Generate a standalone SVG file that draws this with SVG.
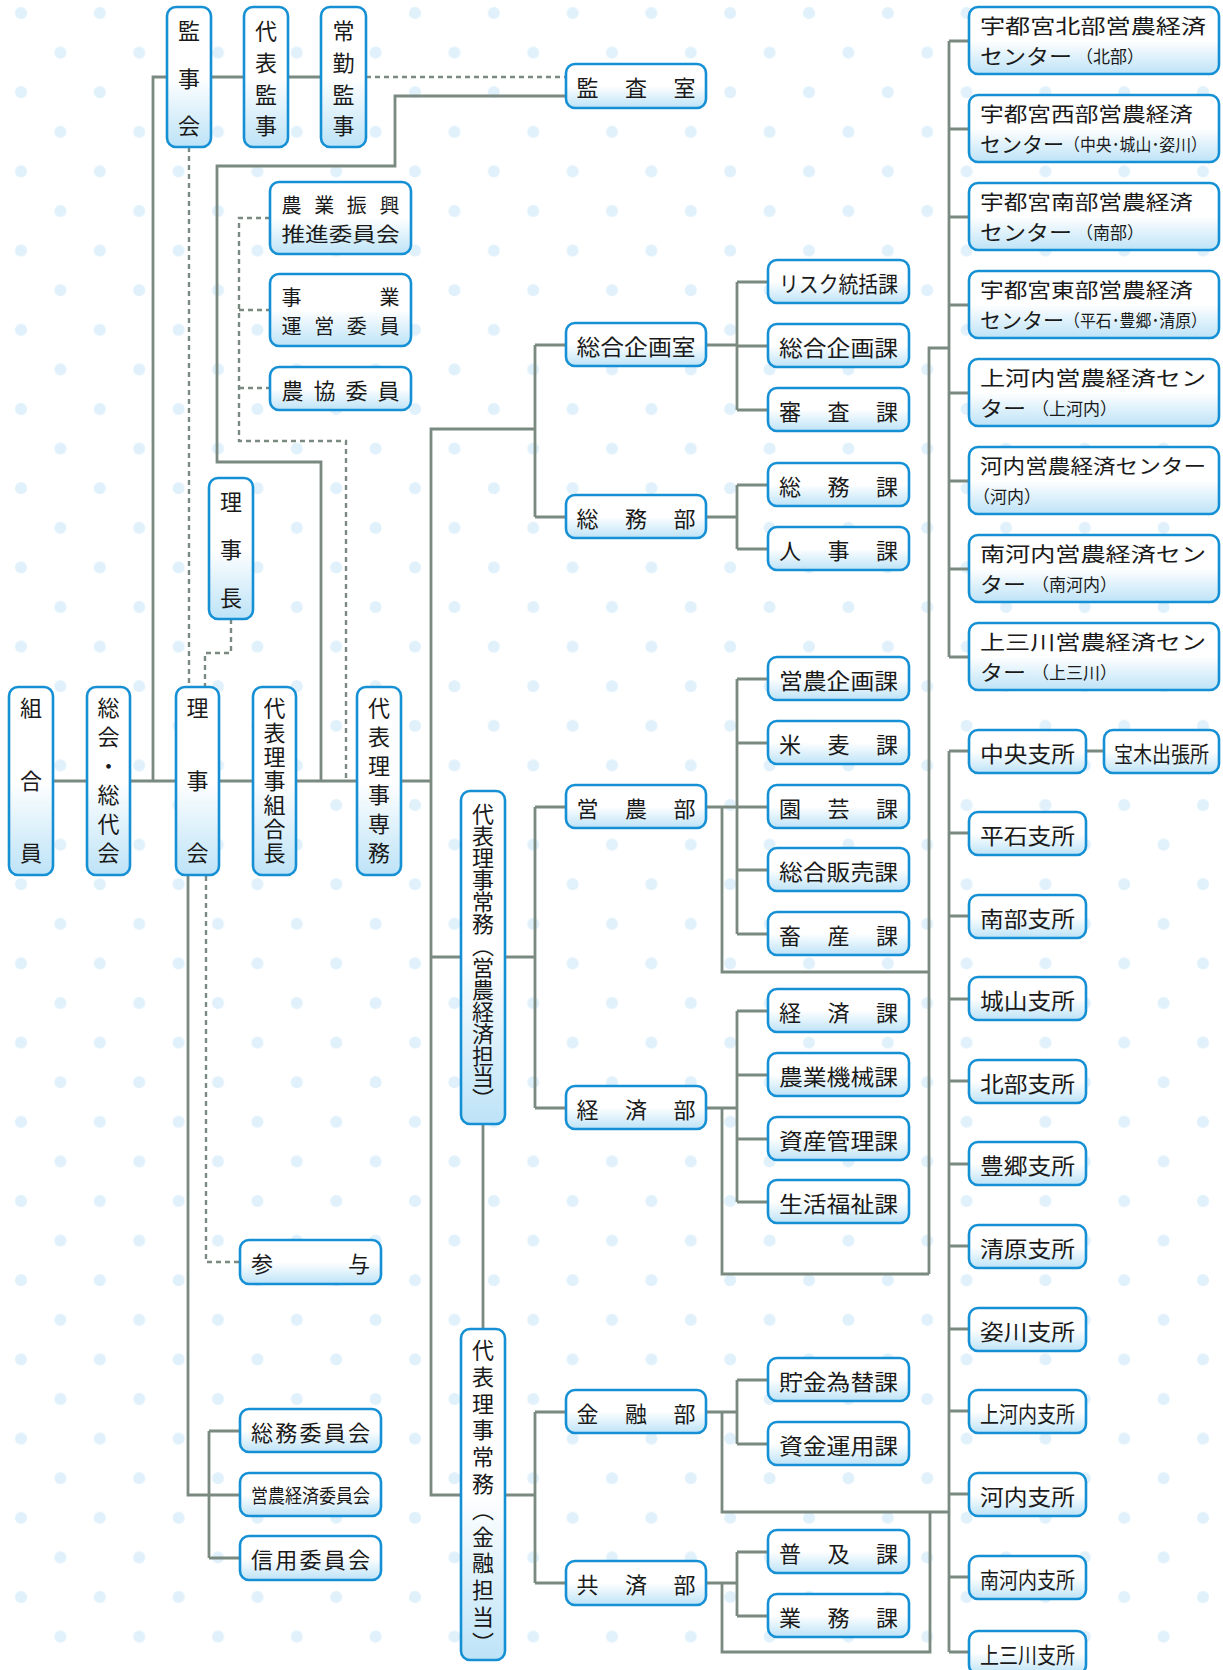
<svg xmlns="http://www.w3.org/2000/svg" width="1223" height="1670" viewBox="0 0 1223 1670">
<style>
.b{fill:url(#g);stroke:#1590d5;stroke-width:2.6}
.t{font-family:"Noto Sans CJK JP","Noto Sans",sans-serif;font-size:22px;fill:#1a1a1a;text-anchor:middle;dominant-baseline:central}
.l{text-anchor:start}
.v{writing-mode:vertical-rl;text-anchor:start}
.s{font-size:17px}
.m{font-size:21px}
.h{font-size:20px}
.c{fill:none;stroke:#7b8a80;stroke-width:2.8}
.d{fill:none;stroke:#7b8a80;stroke-width:2.4;stroke-dasharray:5 4}
</style>
<defs>
<linearGradient id="g" x1="0" y1="0" x2="0" y2="1">
<stop offset="0" stop-color="#ffffff"/>
<stop offset="0.5" stop-color="#ffffff"/>
<stop offset="1" stop-color="#bde3f7"/>
</linearGradient>
<pattern id="dots" patternUnits="userSpaceOnUse" width="78.8" height="79.2">
<circle cx="21" cy="13" r="6" fill="#e1f1fb"/>
<circle cx="60.4" cy="52.6" r="6" fill="#e1f1fb"/>
</pattern>
</defs>
<rect width="1223" height="1670" fill="#ffffff"/>
<rect width="1223" height="1670" fill="url(#dots)"/>

<g id="connectors">
<path class="c" d="M153,781 V77 H321"/>
<path class="d" d="M366,77 H566"/>
<path class="c" d="M566,96 H395 V166 H217 V462 H321 V781"/>
<path class="d" d="M189,147 V688"/>
<path class="d" d="M231,619 V653 H205 V688"/>
<path class="d" d="M270,218 H239 V441 H346 V781 M239,310 H270 M239,388 H270"/>
<path class="c" d="M53,781 H431"/>
<path class="c" d="M535,429 H431 V1495 H461 M431,957 H461"/>
<path class="c" d="M535,345 V517 M535,345 H566 M535,517 H566"/>
<path class="c" d="M706,345 H737 M737,282 V410 M737,282 H768 M737,346 H768 M737,410 H768"/>
<path class="c" d="M706,517 H737 M737,485 V549 M737,485 H768 M737,549 H768"/>
<path class="c" d="M505,957 H535 M535,807 V1108 M535,807 H566 M535,1108 H566"/>
<path class="c" d="M706,807 H737 M737,679 V934 M737,679 H768 M737,743 H768 M737,807 H768 M737,870 H768 M737,934 H768"/>
<path class="c" d="M722,807 V972 H929"/>
<path class="c" d="M706,1108 H737 M737,1011 V1202 M737,1011 H768 M737,1075 H768 M737,1139 H768 M737,1202 H768"/>
<path class="c" d="M722,1108 V1274 H929"/>
<path class="c" d="M929,1274 V348 H949"/>
<path class="c" d="M949,41 V657 M949,41 H969 M949,129 H969 M949,217 H969 M949,305 H969 M949,393 H969 M949,481 H969 M949,569 H969 M949,657 H969"/>
<path class="c" d="M483,1124 V1329"/>
<path class="c" d="M505,1495 H535 M535,1412 V1583 M535,1412 H566 M535,1583 H566"/>
<path class="c" d="M706,1412 H737 M737,1380 V1444 M737,1380 H768 M737,1444 H768"/>
<path class="c" d="M722,1412 V1512 H949"/>
<path class="c" d="M706,1583 H737 M737,1552 V1616 M737,1552 H768 M737,1616 H768"/>
<path class="c" d="M722,1583 V1652 H930 V1512"/>
<path class="c" d="M949,751 V1652 M949,751 H969 M949,833 H969 M949,916 H969 M949,999 H969 M949,1081 H969 M949,1164 H969 M949,1246 H969 M949,1329 H969 M949,1411 H969 M949,1494 H969 M949,1577 H969 M949,1652 H969 M1086,751 H1104"/>
<path class="c" d="M188,876 V1495 H240 M209,1431 V1558 M209,1431 H240 M209,1558 H240"/>
<path class="d" d="M206,876 V1262 H240"/>
</g>

<g id="n-kanjikai"><rect class="b" x="167" y="7" width="44" height="140" rx="9"/><text class="t v" x="189" y="20" textLength="117">監事会</text></g>
<g id="n-daihyokanji"><rect class="b" x="244" y="7" width="44" height="140" rx="9"/><text class="t v" x="266" y="20" textLength="117">代表監事</text></g>
<g id="n-jokinkanji"><rect class="b" x="321" y="7" width="45" height="140" rx="9"/><text class="t v" x="343.5" y="20" textLength="117">常勤監事</text></g>
<g id="n-kansashitsu"><rect class="b" x="566" y="64" width="140" height="44" rx="9"/><text class="t" x="636" y="86" textLength="119">監査室</text></g>

<g id="n-shinko"><rect class="b" x="270" y="182" width="141" height="72" rx="9"/><text class="t h"><tspan x="340.5" y="204" textLength="118">農業振興</tspan><tspan x="340.5" y="233" textLength="118" lengthAdjust="spacingAndGlyphs">推進委員会</tspan></text></g>
<g id="n-jigyo"><rect class="b" x="270" y="274" width="141" height="72" rx="9"/><text class="t h"><tspan x="340.5" y="296" textLength="118">事業</tspan><tspan x="340.5" y="325" textLength="118">運営委員</tspan></text></g>
<g id="n-nokyo"><rect class="b" x="270" y="367" width="141" height="43" rx="9"/><text class="t" x="340.5" y="388.5" textLength="118">農協委員</text></g>

<g id="n-rijicho"><rect class="b" x="209" y="478" width="44" height="141" rx="9"/><text class="t v" x="231" y="491" textLength="118">理事長</text></g>

<g id="n-kumiaiin"><rect class="b" x="9" y="687" width="44" height="188" rx="9"/><text class="t v" x="31" y="697" textLength="167">組合員</text></g>
<g id="n-sokai"><rect class="b" x="87" y="687" width="43" height="188" rx="9"/><text class="t v" x="108.5" y="697" textLength="167">総会・総代会</text></g>
<g id="n-rijikai"><rect class="b" x="176" y="687" width="43" height="188" rx="9"/><text class="t v" x="197.5" y="697" textLength="167">理事会</text></g>
<g id="n-kumiaicho"><rect class="b" x="253" y="687" width="43" height="188" rx="9"/><text class="t v" x="274.5" y="697" textLength="167">代表理事組合長</text></g>
<g id="n-senmu"><rect class="b" x="357" y="687" width="44" height="188" rx="9"/><text class="t v" x="379" y="697" textLength="167">代表理事専務</text></g>

<g id="n-jomu-eino"><rect class="b" x="461" y="791" width="44" height="333" rx="9"/><text class="t v" x="483" y="803" textLength="307">代表理事常務（営農経済担当）</text></g>
<g id="n-jomu-kinyu"><rect class="b" x="461" y="1329" width="44" height="331" rx="9"/><text class="t v" x="483" y="1339" textLength="315">代表理事常務（金融担当）</text></g>

<g id="n-sanyo"><rect class="b" x="240" y="1240" width="141" height="44" rx="9"/><text class="t" x="310.5" y="1262" textLength="119">参与</text></g>
<g id="n-somuiinkai"><rect class="b" x="240" y="1409" width="141" height="43" rx="9"/><text class="t" x="310.5" y="1430.5" textLength="119">総務委員会</text></g>
<g id="n-einoiinkai"><rect class="b" x="240" y="1473" width="141" height="43" rx="9"/><text class="t" x="310.5" y="1494.5" style="font-size:19px" textLength="119" lengthAdjust="spacingAndGlyphs">営農経済委員会</text></g>
<g id="n-shinyoiinkai"><rect class="b" x="240" y="1536" width="141" height="44" rx="9"/><text class="t" x="310.5" y="1558" textLength="119">信用委員会</text></g>

<g id="n-sogokikakushitsu"><rect class="b" x="566" y="323" width="140" height="43" rx="9"/><text class="t" x="636" y="344.5" textLength="119" lengthAdjust="spacingAndGlyphs">総合企画室</text></g>
<g id="n-somubu"><rect class="b" x="566" y="495" width="140" height="43" rx="9"/><text class="t" x="636" y="516.5" textLength="119">総務部</text></g>
<g id="n-einobu"><rect class="b" x="566" y="785" width="140" height="43" rx="9"/><text class="t" x="636" y="806.5" textLength="119">営農部</text></g>
<g id="n-keizaibu"><rect class="b" x="566" y="1086" width="140" height="43" rx="9"/><text class="t" x="636" y="1107.5" textLength="119">経済部</text></g>
<g id="n-kinyubu"><rect class="b" x="566" y="1390" width="140" height="43" rx="9"/><text class="t" x="636" y="1411.5" textLength="119">金融部</text></g>
<g id="n-kyosaibu"><rect class="b" x="566" y="1561" width="140" height="44" rx="9"/><text class="t" x="636" y="1583" textLength="119">共済部</text></g>

<g id="n-risk"><rect class="b" x="768" y="260" width="141" height="43" rx="9"/><text class="t" x="838.5" y="281.5" textLength="119" lengthAdjust="spacingAndGlyphs">リスク統括課</text></g>
<g id="n-sogokikakuka"><rect class="b" x="768" y="324" width="141" height="43" rx="9"/><text class="t" x="838.5" y="345.5" textLength="119" lengthAdjust="spacingAndGlyphs">総合企画課</text></g>
<g id="n-shinsa"><rect class="b" x="768" y="388" width="141" height="43" rx="9"/><text class="t" x="838.5" y="409.5" textLength="119">審査課</text></g>
<g id="n-somuka"><rect class="b" x="768" y="463" width="141" height="43" rx="9"/><text class="t" x="838.5" y="484.5" textLength="119">総務課</text></g>
<g id="n-jinji"><rect class="b" x="768" y="527" width="141" height="43" rx="9"/><text class="t" x="838.5" y="548.5" textLength="119">人事課</text></g>
<g id="n-einokikaku"><rect class="b" x="768" y="657" width="141" height="43" rx="9"/><text class="t" x="838.5" y="678.5" textLength="119" lengthAdjust="spacingAndGlyphs">営農企画課</text></g>
<g id="n-beibaku"><rect class="b" x="768" y="721" width="141" height="43" rx="9"/><text class="t" x="838.5" y="742.5" textLength="119">米麦課</text></g>
<g id="n-engei"><rect class="b" x="768" y="785" width="141" height="43" rx="9"/><text class="t" x="838.5" y="806.5" textLength="119">園芸課</text></g>
<g id="n-hanbai"><rect class="b" x="768" y="848" width="141" height="43" rx="9"/><text class="t" x="838.5" y="869.5" textLength="119" lengthAdjust="spacingAndGlyphs">総合販売課</text></g>
<g id="n-chikusan"><rect class="b" x="768" y="912" width="141" height="43" rx="9"/><text class="t" x="838.5" y="933.5" textLength="119">畜産課</text></g>
<g id="n-keizaika"><rect class="b" x="768" y="989" width="141" height="43" rx="9"/><text class="t" x="838.5" y="1010.5" textLength="119">経済課</text></g>
<g id="n-kikai"><rect class="b" x="768" y="1053" width="141" height="43" rx="9"/><text class="t" x="838.5" y="1074.5" textLength="119" lengthAdjust="spacingAndGlyphs">農業機械課</text></g>
<g id="n-shisan"><rect class="b" x="768" y="1117" width="141" height="43" rx="9"/><text class="t" x="838.5" y="1138.5" textLength="119" lengthAdjust="spacingAndGlyphs">資産管理課</text></g>
<g id="n-fukushi"><rect class="b" x="768" y="1180" width="141" height="43" rx="9"/><text class="t" x="838.5" y="1201.5" textLength="119" lengthAdjust="spacingAndGlyphs">生活福祉課</text></g>
<g id="n-chokin"><rect class="b" x="768" y="1358" width="141" height="43" rx="9"/><text class="t" x="838.5" y="1379.5" textLength="119" lengthAdjust="spacingAndGlyphs">貯金為替課</text></g>
<g id="n-shikin"><rect class="b" x="768" y="1422" width="141" height="43" rx="9"/><text class="t" x="838.5" y="1443.5" textLength="119" lengthAdjust="spacingAndGlyphs">資金運用課</text></g>
<g id="n-fukyu"><rect class="b" x="768" y="1530" width="141" height="43" rx="9"/><text class="t" x="838.5" y="1551.5" textLength="119">普及課</text></g>
<g id="n-gyomu"><rect class="b" x="768" y="1594" width="141" height="43" rx="9"/><text class="t" x="838.5" y="1615.5" textLength="119">業務課</text></g>

<g id="n-c-hokubu"><rect class="b" x="969" y="7" width="250" height="67" rx="9"/><text class="t l h"><tspan x="980" y="25" textLength="226" lengthAdjust="spacingAndGlyphs">宇都宮北部営農経済</tspan><tspan class="m" x="980" y="55" textLength="92" lengthAdjust="spacingAndGlyphs">センター</tspan><tspan class="s" x="1076" y="55">（北部）</tspan></text></g>
<g id="n-c-seibu"><rect class="b" x="969" y="95" width="250" height="67" rx="9"/><text class="t l h"><tspan x="980" y="113" textLength="213" lengthAdjust="spacingAndGlyphs">宇都宮西部営農経済</tspan><tspan class="m" x="980" y="143" textLength="84" lengthAdjust="spacingAndGlyphs">センター</tspan><tspan class="s" x="1064" y="143" textLength="143" lengthAdjust="spacingAndGlyphs">（中央･城山･姿川）</tspan></text></g>
<g id="n-c-nanbu"><rect class="b" x="969" y="183" width="250" height="67" rx="9"/><text class="t l h"><tspan x="980" y="201" textLength="213" lengthAdjust="spacingAndGlyphs">宇都宮南部営農経済</tspan><tspan class="m" x="980" y="231" textLength="92" lengthAdjust="spacingAndGlyphs">センター</tspan><tspan class="s" x="1076" y="231">（南部）</tspan></text></g>
<g id="n-c-tobu"><rect class="b" x="969" y="271" width="250" height="67" rx="9"/><text class="t l h"><tspan x="980" y="289" textLength="213" lengthAdjust="spacingAndGlyphs">宇都宮東部営農経済</tspan><tspan class="m" x="980" y="319" textLength="84" lengthAdjust="spacingAndGlyphs">センター</tspan><tspan class="s" x="1064" y="319" textLength="143" lengthAdjust="spacingAndGlyphs">（平石･豊郷･清原）</tspan></text></g>
<g id="n-c-kamikawachi"><rect class="b" x="969" y="359" width="250" height="67" rx="9"/><text class="t l h"><tspan x="980" y="377" textLength="226" lengthAdjust="spacingAndGlyphs">上河内営農経済セン</tspan><tspan class="m" x="980" y="407" textLength="46" lengthAdjust="spacingAndGlyphs">ター</tspan><tspan class="s" x="1032" y="407">（上河内）</tspan></text></g>
<g id="n-c-kawachi"><rect class="b" x="969" y="447" width="250" height="67" rx="9"/><text class="t l h"><tspan x="980" y="465" textLength="226" lengthAdjust="spacingAndGlyphs">河内営農経済センター</tspan><tspan class="s" x="973" y="495">（河内）</tspan></text></g>
<g id="n-c-minamikawachi"><rect class="b" x="969" y="535" width="250" height="67" rx="9"/><text class="t l h"><tspan x="980" y="553" textLength="226" lengthAdjust="spacingAndGlyphs">南河内営農経済セン</tspan><tspan class="m" x="980" y="583" textLength="46" lengthAdjust="spacingAndGlyphs">ター</tspan><tspan class="s" x="1032" y="583">（南河内）</tspan></text></g>
<g id="n-c-kaminokawa"><rect class="b" x="969" y="623" width="250" height="67" rx="9"/><text class="t l h"><tspan x="980" y="641" textLength="226" lengthAdjust="spacingAndGlyphs">上三川営農経済セン</tspan><tspan class="m" x="980" y="671" textLength="46" lengthAdjust="spacingAndGlyphs">ター</tspan><tspan class="s" x="1032" y="671">（上三川）</tspan></text></g>

<g id="n-b-chuo"><rect class="b" x="969" y="730" width="117" height="43" rx="9"/><text class="t" x="1027.5" y="751.5" textLength="95" lengthAdjust="spacingAndGlyphs">中央支所</text></g>
<g id="n-b-takaragi"><rect class="b" x="1104" y="730" width="115" height="43" rx="9"/><text class="t" x="1161.5" y="751.5" textLength="95" lengthAdjust="spacingAndGlyphs">宝木出張所</text></g>
<g id="n-b-hiraishi"><rect class="b" x="969" y="812" width="117" height="43" rx="9"/><text class="t" x="1027.5" y="833.5" textLength="95" lengthAdjust="spacingAndGlyphs">平石支所</text></g>
<g id="n-b-nanbu"><rect class="b" x="969" y="895" width="117" height="43" rx="9"/><text class="t" x="1027.5" y="916.5" textLength="95" lengthAdjust="spacingAndGlyphs">南部支所</text></g>
<g id="n-b-shiroyama"><rect class="b" x="969" y="977" width="117" height="43" rx="9"/><text class="t" x="1027.5" y="998.5" textLength="95" lengthAdjust="spacingAndGlyphs">城山支所</text></g>
<g id="n-b-hokubu"><rect class="b" x="969" y="1060" width="117" height="43" rx="9"/><text class="t" x="1027.5" y="1081.5" textLength="95" lengthAdjust="spacingAndGlyphs">北部支所</text></g>
<g id="n-b-toyosato"><rect class="b" x="969" y="1142" width="117" height="43" rx="9"/><text class="t" x="1027.5" y="1163.5" textLength="95" lengthAdjust="spacingAndGlyphs">豊郷支所</text></g>
<g id="n-b-kiyohara"><rect class="b" x="969" y="1225" width="117" height="43" rx="9"/><text class="t" x="1027.5" y="1246.5" textLength="95" lengthAdjust="spacingAndGlyphs">清原支所</text></g>
<g id="n-b-sugatagawa"><rect class="b" x="969" y="1308" width="117" height="43" rx="9"/><text class="t" x="1027.5" y="1329.5" textLength="95" lengthAdjust="spacingAndGlyphs">姿川支所</text></g>
<g id="n-b-kamikawachi"><rect class="b" x="969" y="1390" width="117" height="43" rx="9"/><text class="t" x="1027.5" y="1411.5" textLength="95" lengthAdjust="spacingAndGlyphs">上河内支所</text></g>
<g id="n-b-kawachi"><rect class="b" x="969" y="1473" width="117" height="43" rx="9"/><text class="t" x="1027.5" y="1494.5" textLength="95" lengthAdjust="spacingAndGlyphs">河内支所</text></g>
<g id="n-b-minamikawachi"><rect class="b" x="969" y="1556" width="117" height="43" rx="9"/><text class="t" x="1027.5" y="1577.5" textLength="95" lengthAdjust="spacingAndGlyphs">南河内支所</text></g>
<g id="n-b-kaminokawa"><rect class="b" x="969" y="1631" width="117" height="43" rx="9"/><text class="t" x="1027.5" y="1652.5" textLength="95" lengthAdjust="spacingAndGlyphs">上三川支所</text></g>
</svg>
